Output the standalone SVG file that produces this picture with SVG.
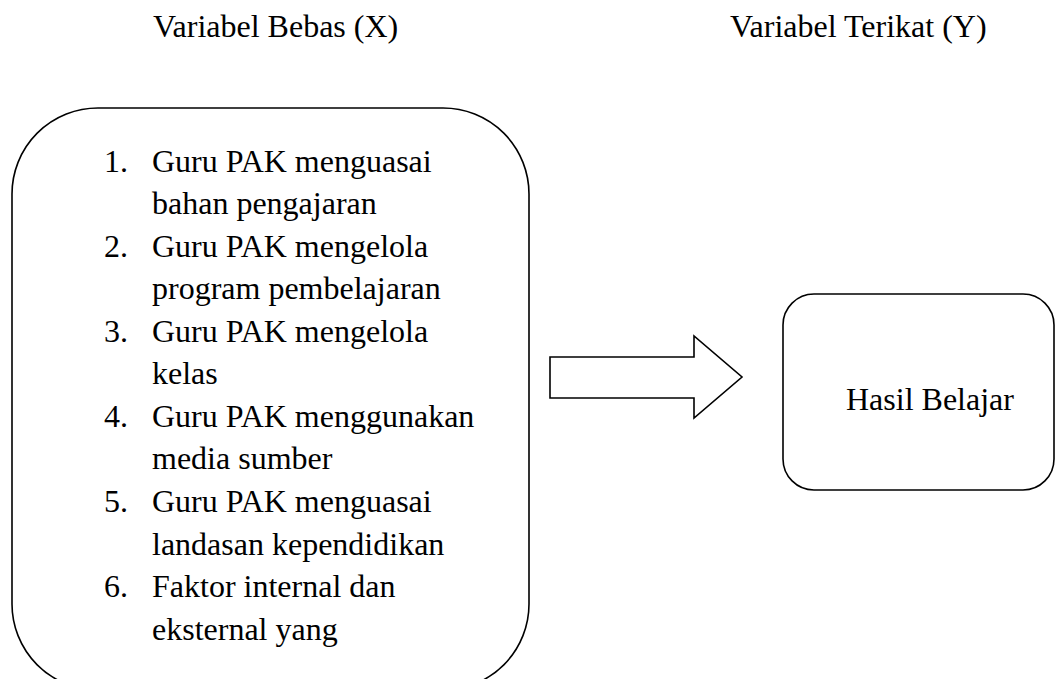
<svg xmlns="http://www.w3.org/2000/svg" width="1060" height="679" viewBox="0 0 1060 679">
<style>
text{font-family:"Liberation Serif","Tinos","Times New Roman","DejaVu Serif",serif;font-size:32px;fill:#000}
.box{fill:none;stroke:#000;stroke-width:1.6}
</style>
<rect width="1060" height="679" fill="#fff"/>
<g id="headers" font-family="Liberation Serif, serif">
<text x="153" y="37">Variabel Bebas (X)</text>
<text x="730" y="37">Variabel Terikat (Y)</text>
</g>
<g id="node-x" font-family="Liberation Serif, serif">
<rect class="box" x="12" y="108" width="517" height="582" rx="86" ry="86"/>
<text x="104" y="171.5">1.</text><text x="152" y="171.5">Guru PAK menguasai</text>
<text x="152" y="214">bahan pengajaran</text>
<text x="104" y="256.6">2.</text><text x="152" y="256.6">Guru PAK mengelola</text>
<text x="152" y="299.2">program pembelajaran</text>
<text x="104" y="341.7">3.</text><text x="152" y="341.7">Guru PAK mengelola</text>
<text x="152" y="384.3">kelas</text>
<text x="104" y="426.8">4.</text><text x="152" y="426.8">Guru PAK menggunakan</text>
<text x="152" y="469.4">media sumber</text>
<text x="104" y="511.9">5.</text><text x="152" y="511.9">Guru PAK menguasai</text>
<text x="152" y="554.5">landasan kependidikan</text>
<text x="104" y="597">6.</text><text x="152" y="597">Faktor internal dan</text>
<text x="152" y="639.6">eksternal yang</text>
</g>
<g id="node-y" font-family="Liberation Serif, serif">
<rect class="box" x="783" y="294" width="271" height="196" rx="31" ry="31"/>
<text x="846" y="410">Hasil Belajar</text>
</g>
<g id="connectors">
<path class="box" d="M550,357 H694 V336 L742,377 L694,418 V398 H550 Z"/>
</g>
</svg>
